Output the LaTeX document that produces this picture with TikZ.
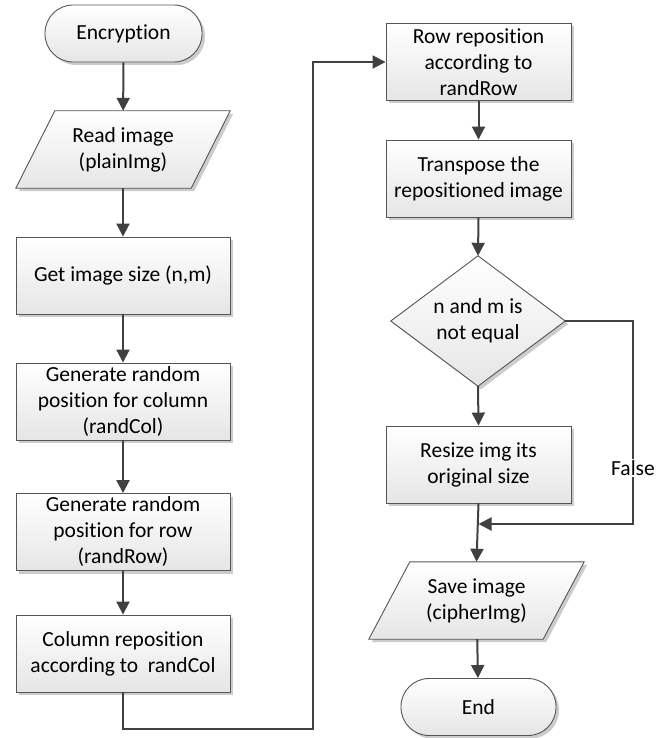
\documentclass[tikz,border=0pt]{standalone}
\usepackage{fontspec}
\setmainfont{Carlito}[Ligatures={NoCommon}]
\usetikzlibrary{arrows.meta,shadows,backgrounds,calc}
\definecolor{boxc}{HTML}{555555}
\definecolor{arrc}{HTML}{404040}
\tikzset{
  shade/.style={top color=white, bottom color=black!10, draw=boxc, line width=0.9pt,
    drop shadow={shadow xshift=3pt, shadow yshift=-3pt, fill=black!20, opacity=1}},
  txt/.style={font=\fontsize{21.5}{26}\selectfont, align=center, inner sep=0pt},
  proc/.style={rectangle, shade, txt, minimum width=214pt, minimum height=77pt},
  rproc/.style={proc, minimum width=185pt},
  term/.style={rectangle, rounded corners=28pt, shade, txt, minimum width=157pt, minimum height=57pt},
  blank/.style={txt, rectangle, draw=none},
  arr/.style={draw=arrc, line width=2pt, -{Triangle[width=13pt,length=13pt]}},
  lin/.style={draw=arrc, line width=2pt}
}
\begin{document}
\begin{tikzpicture}[x=1pt,y=-1pt]
\useasboundingbox (0,0) rectangle (670,738);
% left column
\node[term] (enc) at (123.5,33.5) {Encryption};
\node[blank, minimum width=214pt, minimum height=77pt] (read) at (123,149.5) {Read image\\(plainImg)};
\node[proc] (size) at (123,275.5) {Get image size (n,m)};
\node[proc] (gcol) at (123,401.5) {Generate random\\position for column\\(randCol)};
\node[proc] (grow) at (123,532) {Generate random\\position for row\\(randRow)};
\node[proc] (crep) at (123,653.5) {Column reposition\\according to\ \ randCol};
% right column
\node[rproc] (rrep) at (478.5,62) {Row reposition\\according to\\randRow};
\node[rproc] (trans) at (478.5,178.5) {Transpose the\\repositioned image};
\node[blank, minimum width=174pt, minimum height=130pt] (dia) at (478,321) {n and m is\\not equal};
\node[rproc] (resize) at (478.5,464.5) {Resize img its\\original size};
\node[blank, minimum width=215pt, minimum height=77pt] (save) at (476.5,600.5) {Save image\\(cipherImg)};
\node[term, minimum width=155pt] (end) at (478.5,707) {End};
% custom shapes behind text
\begin{scope}[on background layer]
\path[shade] ($(read.north west)+(39,0)$) -- (read.north east) -- ($(read.south east)-(39,0)$) -- (read.south west) -- cycle;
\path[shade] ($(save.north west)+(41,0)$) -- (save.north east) -- ($(save.south east)-(41,0)$) -- (save.south west) -- cycle;
\path[shade] (dia.north) -- (dia.east) -- (dia.south) -- (dia.west) -- cycle;
\end{scope}
% connectors
\coordinate (c1) at (313,729);
\coordinate (fc) at (633,524);
\coordinate (fj) at (478.5,524);
\draw[arr] (enc) -- (read);
\draw[arr] (read) -- (size);
\draw[arr] (size) -- (gcol);
\draw[arr] (gcol) -- (grow);
\draw[arr] (grow) -- (crep);
\draw[arr] (crep.south) |- (c1) |- (rrep.west);
\draw[arr] (rrep) -- (trans);
\draw[arr] (trans.south) -- (dia.north);
\draw[arr] (dia.south) -- (resize.north);
\draw[arr] (resize.south) -- (save.north);
\draw[arr] (save) -- (end);
\draw[arr] (dia.east) -| (fc) -- (fj);
\node[txt, fill=white, inner sep=1pt] (false) at (633,468) {False};
\end{tikzpicture}
\end{document}
